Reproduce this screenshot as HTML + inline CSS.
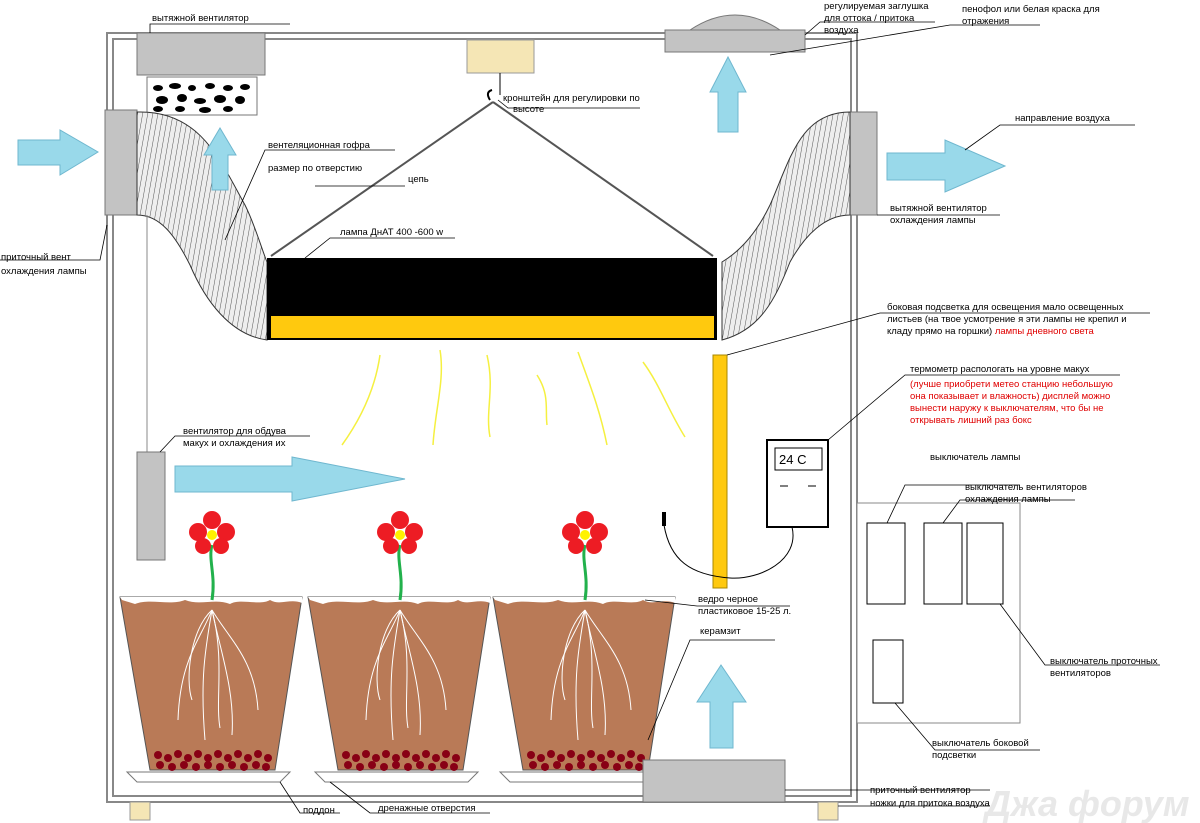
<!DOCTYPE html>
<html><head><meta charset="utf-8"><style>
html,body{margin:0;padding:0;background:#fff;}
svg{display:block;}
text{font-family:"Liberation Sans","DejaVu Sans",sans-serif;font-size:9.5px;fill:#000;}
.r{fill:#e00000;}
</style></head><body>
<svg width="1200" height="823" viewBox="0 0 1200 823" xmlns="http://www.w3.org/2000/svg">
<defs>
<pattern id="hatch" width="5" height="5" patternUnits="userSpaceOnUse" patternTransform="rotate(10)">
<rect width="5" height="5" fill="#eee"/><line x1="0" y1="0" x2="0" y2="5" stroke="#555" stroke-width="1"/>
</pattern>
</defs>
<rect x="107" y="33" width="750" height="769" fill="none" stroke="#888" stroke-width="2"/>
<rect x="113" y="39" width="738" height="757" fill="none" stroke="#888" stroke-width="2"/>

<rect x="137" y="33" width="128" height="42" fill="#c3c3c3" stroke="#777"/>
<rect x="147" y="77" width="110" height="38" fill="#fff" stroke="#777"/>
<g fill="#000">
<ellipse cx="158" cy="88" rx="5" ry="3"/><ellipse cx="175" cy="86" rx="6" ry="3"/><ellipse cx="192" cy="88" rx="4" ry="3"/><ellipse cx="210" cy="86" rx="5" ry="3"/><ellipse cx="228" cy="88" rx="5" ry="3"/><ellipse cx="245" cy="87" rx="5" ry="3"/>
<ellipse cx="162" cy="100" rx="6" ry="4"/><ellipse cx="182" cy="98" rx="5" ry="4"/><ellipse cx="200" cy="101" rx="6" ry="3"/><ellipse cx="220" cy="99" rx="6" ry="4"/><ellipse cx="240" cy="100" rx="5" ry="4"/>
<ellipse cx="158" cy="109" rx="5" ry="3"/><ellipse cx="180" cy="109" rx="5" ry="3"/><ellipse cx="205" cy="110" rx="6" ry="3"/><ellipse cx="228" cy="109" rx="5" ry="3"/>
</g>
<rect x="467" y="40" width="67" height="33" fill="#f5e6b5" stroke="#999"/>
<line x1="500" y1="73" x2="500" y2="95" stroke="#000"/>
<path d="M490 100 Q485 92 492 90" stroke="#000" fill="none" stroke-width="2"/>
<path d="M690 30 Q735 0 780 30 Z" fill="#c3c3c3" stroke="#777"/>
<rect x="665" y="30" width="140" height="22" fill="#c3c3c3" stroke="#777"/>

<rect x="105" y="110" width="32" height="105" fill="#c3c3c3" stroke="#777"/>
<rect x="850" y="112" width="27" height="103" fill="#c3c3c3" stroke="#777"/>
<path d="M137 112 C200 110 220 160 245 205 C255 225 262 250 267 262 L267 340 C230 335 205 300 190 265 C175 235 160 215 137 215 Z" fill="url(#hatch)" stroke="#333"/>
<path d="M850 112 C800 112 790 160 770 205 C758 230 742 250 722 262 L722 340 C760 330 775 300 790 262 C805 235 825 215 850 215 Z" fill="url(#hatch)" stroke="#333"/>
<rect x="267" y="258" width="450" height="82" fill="#000"/>
<rect x="271" y="316" width="443" height="22" fill="#ffc90e"/>
<line x1="493" y1="102" x2="271" y2="256" stroke="#555" stroke-width="2"/>
<line x1="493" y1="102" x2="713" y2="256" stroke="#555" stroke-width="2"/>
<g stroke="#f5f040" stroke-width="1.5" fill="none">
<path d="M380 355 C375 390 360 420 342 445"/><path d="M440 350 C445 380 435 410 433 445"/>
<path d="M487 355 C495 390 485 410 490 437"/><path d="M537 375 C550 395 545 410 547 425"/>
<path d="M578 352 C590 385 600 410 607 445"/><path d="M643 362 C660 385 668 410 685 437"/>
</g>
<g fill="#99d9ea" stroke="#6fb7cf">
<polygon points="18,140 60,140 60,130 98,152 60,175 60,165 18,165"/>
<polygon points="887,153 945,153 945,140 1005,166 945,192 945,180 887,180"/>
<polygon points="212,190 212,155 204,155 220,128 236,155 228,155 228,190"/>
<polygon points="718,132 718,92 710,92 728,57 746,92 738,92 738,132"/>
<polygon points="710,748 710,702 697,702 721,665 746,702 733,702 733,748"/>
<polygon points="175,466 292,466 292,457 405,479 292,501 292,492 175,492"/>
</g>
<line x1="147" y1="215" x2="147" y2="452" stroke="#888"/>
<rect x="137" y="452" width="28" height="108" fill="#c3c3c3" stroke="#777"/>
<rect x="713" y="355" width="14" height="233" fill="#ffc90e" stroke="#aa8800"/>
<rect x="767" y="440" width="61" height="87" fill="#fff" stroke="#000" stroke-width="2"/>
<rect x="775" y="448" width="47" height="22" fill="#fff" stroke="#000"/>
<text x="779" y="464" style="font-size:13px">24 C</text>
<line x1="780" y1="486" x2="788" y2="486" stroke="#000"/><line x1="808" y1="486" x2="816" y2="486" stroke="#000"/>
<path d="M792 527 C800 560 760 580 730 578 C690 575 670 560 664 525" stroke="#000" fill="none"/>
<rect x="662" y="512" width="4" height="14" fill="#000"/>
<rect x="857" y="503" width="163" height="220" fill="#fff" stroke="#888"/>
<rect x="867" y="523" width="38" height="81" fill="#fff" stroke="#000"/>
<rect x="924" y="523" width="38" height="81" fill="#fff" stroke="#000"/>
<rect x="967" y="523" width="36" height="81" fill="#fff" stroke="#000"/>
<rect x="873" y="640" width="30" height="63" fill="#fff" stroke="#000"/>
<g id="pot">
<polygon points="120,597 302,597 275,770 150,770" fill="#b97a57" stroke="#555"/>
<path d="M120 597 L302 597 L302 603 C290 598 280 606 270 600 C260 606 240 598 230 604 C215 598 200 606 185 600 C170 606 150 598 135 604 L122 600 Z" fill="#fff"/>
<g fill="#880015">
<circle cx="158" cy="755" r="4"/><circle cx="168" cy="758" r="4"/><circle cx="178" cy="754" r="4"/><circle cx="188" cy="758" r="4"/><circle cx="198" cy="754" r="4"/><circle cx="208" cy="758" r="4"/><circle cx="218" cy="754" r="4"/><circle cx="228" cy="758" r="4"/><circle cx="238" cy="754" r="4"/><circle cx="248" cy="758" r="4"/><circle cx="258" cy="754" r="4"/><circle cx="268" cy="758" r="4"/>
<circle cx="160" cy="765" r="4"/><circle cx="172" cy="767" r="4"/><circle cx="184" cy="765" r="4"/><circle cx="196" cy="767" r="4"/><circle cx="208" cy="765" r="4"/><circle cx="220" cy="767" r="4"/><circle cx="232" cy="765" r="4"/><circle cx="244" cy="767" r="4"/><circle cx="256" cy="765" r="4"/><circle cx="266" cy="767" r="4"/>
</g>
<g stroke="#fff" fill="none" stroke-width="1">
<path d="M212 610 C200 640 180 660 178 720"/><path d="M212 610 C205 650 200 680 205 740"/><path d="M212 610 C220 650 235 690 232 735"/><path d="M212 610 C230 640 255 660 258 710"/><path d="M212 610 C190 630 185 680 192 700"/><path d="M212 610 C225 660 215 700 220 728"/>
</g>
<polygon points="127,772 290,772 280,782 137,782" fill="#fff" stroke="#777"/>
<path d="M212 545 C208 560 216 575 212 600" stroke="#22b14c" stroke-width="3" fill="none"/>
<g fill="#ed1c24"><circle cx="212" cy="520" r="9"/><circle cx="198" cy="532" r="9"/><circle cx="226" cy="532" r="9"/><circle cx="203" cy="546" r="8"/><circle cx="221" cy="546" r="8"/></g>
<circle cx="212" cy="535" r="5" fill="#fff200"/>
</g>
<use href="#pot" x="188"/>
<use href="#pot" x="373"/>
<rect x="643" y="760" width="142" height="42" fill="#c3c3c3" stroke="#777"/>
<rect x="130" y="802" width="20" height="18" fill="#f5e6b5" stroke="#999"/>
<rect x="818" y="802" width="20" height="18" fill="#f5e6b5" stroke="#999"/>

<g stroke="#000" stroke-width="0.8" fill="none">
<path d="M150 33 L150 24 L290 24"/>
<path d="M805 35 L820 22 L935 22"/>
<path d="M770 55 L950 25 L1040 25"/>
<path d="M498 100 L508 108 L640 108"/>
<path d="M965 150 L1000 125 L1135 125"/>
<path d="M225 240 L265 150 L395 150"/>
<path d="M315 186 L405 186"/>
<path d="M305 258 L330 238 L455 238"/>
<path d="M877 215 L1000 215"/>
<path d="M107 225 L100 260 L0 260"/>
<path d="M727 355 L880 313 L1150 313"/>
<path d="M828 440 L905 375 L1120 375"/>
<path d="M160 452 L175 436 L310 436"/>
<path d="M887 523 L905 485 L1020 485"/>
<path d="M943 523 L960 500 L1075 500"/>
<path d="M1000 604 L1045 665 L1160 665"/>
<path d="M895 703 L935 750 L1040 750"/>
<path d="M645 600 L697 606 L790 606"/>
<path d="M648 740 L690 640 L775 640"/>
<path d="M280 782 L300 813 L340 813"/>
<path d="M330 782 L370 813 L490 813"/>
<path d="M785 790 L860 790 L990 790"/>
<path d="M838 806 L870 806 L990 806"/>
</g>

<text x="152" y="21">вытяжной вентилятор</text>
<text x="824" y="9">регулируемая заглушка</text>
<text x="824" y="21">для оттока / притока</text>
<text x="824" y="33">воздуха</text>
<text x="962" y="12">пенофол или белая краска для</text>
<text x="962" y="24">отражения</text>
<text x="503" y="101">кронштейн для регулировки по</text>
<text x="513" y="112">высоте</text>
<text x="1015" y="121">направление воздуха</text>
<text x="268" y="148">вентеляционная гофра</text>
<text x="268" y="171">размер по отверстию</text>
<text x="408" y="182">цепь</text>
<text x="340" y="235">лампа ДнАТ 400 -600 w</text>
<text x="890" y="211">вытяжной вентилятор</text>
<text x="890" y="223">охлаждения лампы</text>
<text x="1" y="260">приточный вент</text>
<text x="1" y="274">охлаждения лампы</text>
<text x="887" y="310">боковая подсветка для освещения мало освещенных</text>
<text x="887" y="322">листьев (на твое усмотрение я эти лампы не крепил и</text>
<text x="887" y="334">кладу прямо на горшки) <tspan class="r">лампы дневного света</tspan></text>
<text x="910" y="372">термометр распологать на уровне макух</text>
<text x="910" y="387" class="r">(лучше приобрети метео станцию небольшую</text>
<text x="910" y="399" class="r">она показывает и влажность) дисплей можно</text>
<text x="910" y="411" class="r">вынести наружу к выключателям, что бы не</text>
<text x="910" y="423" class="r">открывать лишний раз бокс</text>
<text x="183" y="434">вентилятор для обдува</text>
<text x="183" y="446">макух и охлаждения их</text>
<text x="930" y="460">выключатель лампы</text>
<text x="965" y="490">выключатель вентиляторов</text>
<text x="965" y="502">охлаждения лампы</text>
<text x="698" y="602">ведро черное</text>
<text x="698" y="614">пластиковое 15-25 л.</text>
<text x="700" y="634">керамзит</text>
<text x="1050" y="664">выключатель проточных</text>
<text x="1050" y="676">вентиляторов</text>
<text x="932" y="746">выключатель боковой</text>
<text x="932" y="758">подсветки</text>
<text x="870" y="793">приточный вентилятор</text>
<text x="870" y="806">ножки для притока воздуха</text>
<text x="303" y="813">поддон</text>
<text x="378" y="811">дренажные отверстия</text>
<text x="985" y="816" style="font-size:36px;font-weight:bold;font-style:italic;fill:#e8e8e8">Джа форум</text>
</svg>
</body></html>
